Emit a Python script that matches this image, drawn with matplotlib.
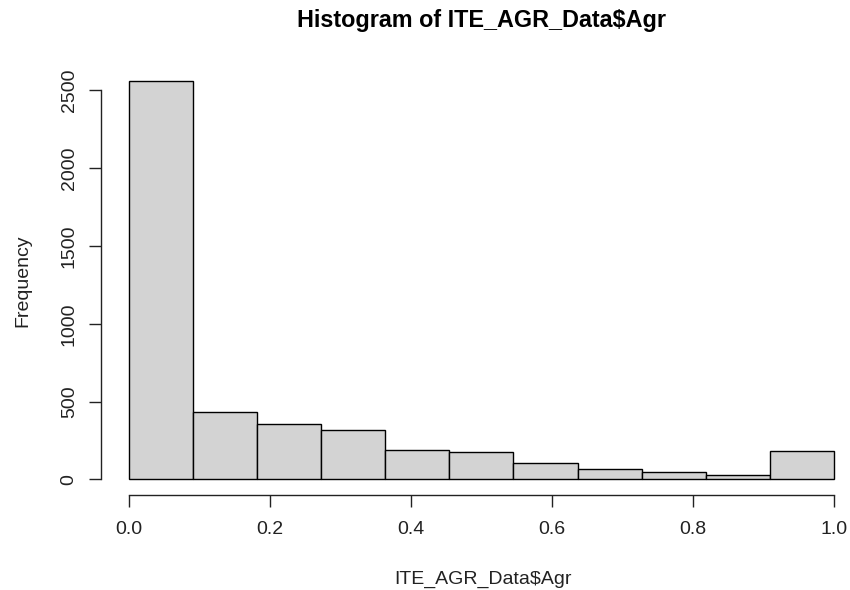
import numpy as np
import matplotlib.pyplot as plt

plt.rcParams['font.family'] = ['Liberation Sans', 'DejaVu Sans']

# histogram of ITE_AGR_Data$Agr, 11 equal bins on [0, 1]
breaks = np.linspace(0, 1, 12)
counts = [2558, 434, 359, 320, 188, 175, 104, 69, 48, 27, 185]
xticks = [0.0, 0.2, 0.4, 0.6, 0.8, 1.0]
yticks = [0, 500, 1000, 1500, 2000, 2500]

fig = plt.figure(figsize=(8.5, 5.9), dpi=100)
ax = fig.add_axes([100.8 / 850, 1 - 495.4 / 590, 761.2 / 850, 430 / 590])

ax.bar(breaks[:-1], counts, width=np.diff(breaks), align='edge',
       color='#d3d3d3', edgecolor='black', linewidth=1)

ymax = max(counts)
ax.set_xlim(-0.04, 1.04)
ax.set_ylim(-0.04 * ymax, 1.04 * ymax)

ax.set_xticks(xticks)
ax.set_xticklabels(['0.0', '0.2', '0.4', '0.6', '0.8', '1.0'])
ax.set_yticks(yticks)
ax.set_yticklabels([str(v) for v in yticks], rotation=90, va='center')

for s in ['top', 'right']:
    ax.spines[s].set_visible(False)
ax.spines['left'].set_bounds(0, 2500)
ax.spines['bottom'].set_bounds(0, 1)
for s in ['left', 'bottom']:
    ax.spines[s].set_linewidth(1)
    ax.spines[s].set_color('#222222')
ax.tick_params(length=8.6, width=1, color='#222222', labelsize=14, labelcolor='#222222')
ax.tick_params(axis='x', pad=9.7)
ax.tick_params(axis='y', pad=8)

fig.text(481.5 / 850, 1 - 26.7 / 590, 'Histogram of ITE_AGR_Data$Agr',
         ha='center', va='baseline', fontsize=16.8, fontweight='bold')
fig.text(483.5 / 850, 1 - 584 / 590, 'ITE_AGR_Data$Agr',
         ha='center', va='baseline', fontsize=14, color='#222222')
fig.text(27 / 850, 1 - 280.5 / 590, 'Frequency', rotation=90, rotation_mode='anchor',
         ha='center', va='baseline', fontsize=14, color='#222222')

fig.savefig('out.png', dpi=100)
